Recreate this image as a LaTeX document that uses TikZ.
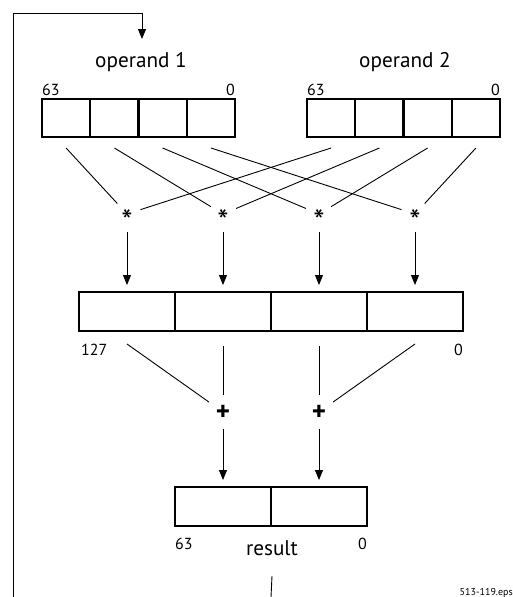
\documentclass[tikz,border=0pt]{standalone}
\usepackage{fontspec}
\setmainfont{PT Sans}
\usetikzlibrary{arrows.meta}
\begin{document}
\begin{tikzpicture}[x=1pt,y=-1pt,
  cell/.style={draw,line width=2.2pt,minimum height=38pt,inner sep=0pt,outer sep=0pt},
  smallcell/.style={cell,minimum width=48.25pt},
  bigcell/.style={cell,minimum width=96pt},
  conn/.style={line width=0.9pt},
  arr/.style={line width=0.9pt,-{Triangle[length=10pt,width=8pt]}},
  title/.style={font=\fontsize{21.2}{25}\selectfont,anchor=base,inner sep=0pt},
  bitnum/.style={font=\fontsize{16}{19}\selectfont,inner sep=0pt},
  mulnode/.style={circle,inner sep=0pt,minimum size=28pt,font=\fontsize{32}{36}\selectfont},
  addnode/.style={circle,inner sep=0pt,minimum size=34pt,font=\fontsize{27}{30}\selectfont\bfseries},
  ]
\useasboundingbox (0,0) rectangle (512,597);
% operand 1 cells
\node[smallcell] (a1) at (66.1,118) {};
\node[smallcell] (a2) at (114.4,118) {};
\node[smallcell] (a3) at (162.6,118) {};
\node[smallcell] (a4) at (210.9,118) {};
% operand 2 cells
\node[smallcell] (b1) at (331.1,118) {};
\node[smallcell] (b2) at (379.4,118) {};
\node[smallcell] (b3) at (427.6,118) {};
\node[smallcell] (b4) at (475.9,118) {};
% middle
\node[bigcell,minimum height=39pt] (m1) at (127,311.5) {};
\node[bigcell,minimum height=39pt] (m2) at (223,311.5) {};
\node[bigcell,minimum height=39pt] (m3) at (319,311.5) {};
\node[bigcell,minimum height=39pt] (m4) at (415,311.5) {};
% result
\node[bigcell,minimum height=39pt] (r1) at (223,506.5) {};
\node[bigcell,minimum height=39pt] (r2) at (319,506.5) {};
% labels
\node[title] (op1) at (141,67) {operand 1};
\node[title] (op2) at (405,67) {operand 2};
\node[title] (res) at (272,555) {result};
\node[bitnum,anchor=base west] (n63a) at (42,95) {63};
\node[bitnum,anchor=base east] (n0a) at (235,95) {0};
\node[bitnum,anchor=base west] (n63b) at (307,95) {63};
\node[bitnum,anchor=base east] (n0b) at (500,95) {0};
\node[bitnum,anchor=base west] (n127) at (81,355) {127};
\node[bitnum,anchor=base east] (n0m) at (463,355) {0};
\node[bitnum,anchor=base west] (n63r) at (175,549) {63};
\node[bitnum,anchor=base east] (n0r) at (367,549) {0};
\node[font=\fontsize{10}{12}\selectfont,anchor=base east,inner sep=0pt] (eps) at (513,595) {513-119.eps};
% multiply nodes
\node[mulnode] (s1) at (127,214) {\raisebox{-0.59em}[0pt][0pt]{*}};
\node[mulnode] (s2) at (223,214) {\raisebox{-0.59em}[0pt][0pt]{*}};
\node[mulnode] (s3) at (319,214) {\raisebox{-0.59em}[0pt][0pt]{*}};
\node[mulnode] (s4) at (415,214) {\raisebox{-0.59em}[0pt][0pt]{*}};
% add nodes
\node[addnode] (p1) at (223,412) {\raisebox{-0.3em}[0pt][0pt]{+}};
\node[addnode] (p2) at (319,412) {\raisebox{-0.3em}[0pt][0pt]{+}};
% crossing lines
\foreach \i in {1,2,3,4}{
  \draw[conn] ([yshift=-11pt]a\i.south) -- (s\i);
  \draw[conn] ([yshift=-11pt]b\i.south) -- (s\i);
  \draw[arr,shorten <=4pt,shorten >=7pt] (s\i.south) -- (s\i.south |- m\i.north);
}
% to adders
\draw[conn] ([yshift=-13pt]m1.south) -- (p1);
\draw[conn] ([yshift=-15pt]m2.south) -- (p1);
\draw[conn] ([yshift=-15pt]m3.south) -- (p2);
\draw[conn] ([yshift=-13pt]m4.south) -- (p2);
\draw[arr,shorten >=7pt] (p1.south) -- (p1.south |- r1.north);
\draw[arr,shorten >=7pt] (p2.south) -- (p2.south |- r2.north);
% result out and feedback
\coordinate (rb) at (271,597);
\draw[conn] ([yshift=-21pt]res.base) -- (rb);
\coordinate (fbA) at (13,597);
\coordinate (fbB) at (142,13);
\coordinate (fbC) at (142,39);
\draw[arr] (fbA) |- (fbB) -- (fbC);
\end{tikzpicture}
\end{document}
